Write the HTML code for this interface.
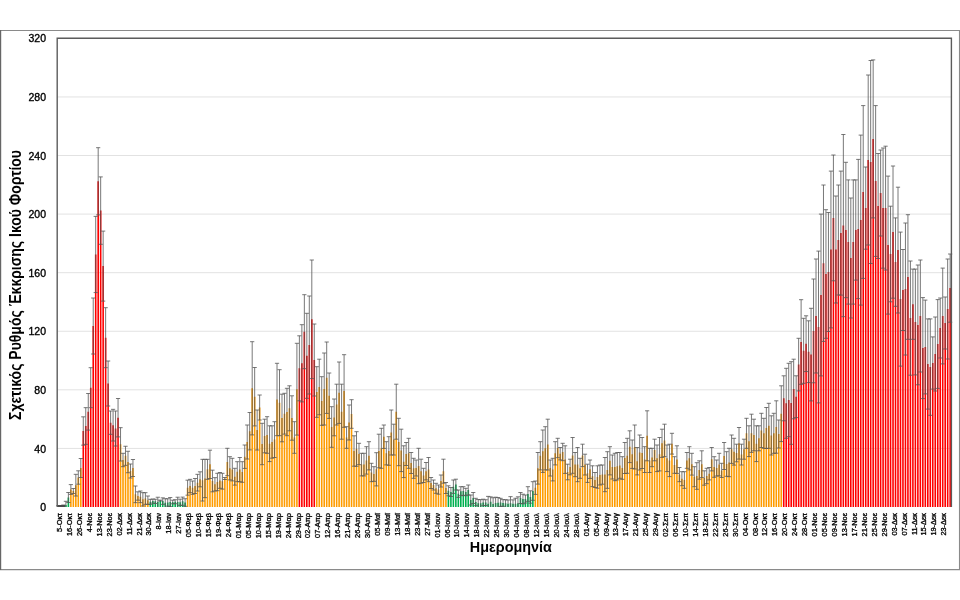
<!DOCTYPE html><html><head><meta charset="utf-8"><style>html,body{margin:0;padding:0;background:#fff;overflow:hidden;}svg{display:block;will-change:transform;font-family:"Liberation Sans",sans-serif;}</style></head><body><svg width="960" height="600" viewBox="0 0 960 600"><path d="M0 30.5H960M959.5 30V570M0 569.6H960" stroke="#8a8a8a" stroke-width="1.1" fill="none"/><path d="M0.6 30V570" stroke="#666" stroke-width="1.2"/><path d="M57.2 448.42H951.4M57.2 389.84H951.4M57.2 331.26H951.4M57.2 272.68H951.4M57.2 214.1H951.4M57.2 155.52H951.4M57.2 96.94H951.4M57.2 38.36H951.4" stroke="#e2e2e2" stroke-width="1" fill="none"/><path d="M57.64 506.3h1.6v0.7h-1.6zM60.13 506.3h1.6v0.7h-1.6zM62.61 506h1.6v1h-1.6zM65.09 505h1.6v2h-1.6zM67.58 497.5h1.6v9.5h-1.6zM149.55 501.83h1.6v5.17h-1.6zM152.03 501.06h1.6v5.94h-1.6zM154.51 501.36h1.6v5.64h-1.6zM157 501.96h1.6v5.04h-1.6zM159.48 500.53h1.6v6.47h-1.6zM161.97 501.11h1.6v5.89h-1.6zM164.45 502.82h1.6v4.18h-1.6zM166.93 502.45h1.6v4.55h-1.6zM169.42 501.99h1.6v5.01h-1.6zM171.9 501.98h1.6v5.02h-1.6zM174.38 501.72h1.6v5.28h-1.6zM176.87 502.07h1.6v4.93h-1.6zM179.35 502.27h1.6v4.73h-1.6zM181.84 501.2h1.6v5.8h-1.6zM184.32 502.52h1.6v4.48h-1.6zM447.61 490.8h1.6v16.2h-1.6zM450.1 492h1.6v15h-1.6zM452.58 486.7h1.6v20.3h-1.6zM455.06 484.6h1.6v22.4h-1.6zM457.55 493.7h1.6v13.3h-1.6zM460.03 491.2h1.6v15.8h-1.6zM462.52 491h1.6v16h-1.6zM465 492h1.6v15h-1.6zM467.48 490h1.6v17h-1.6zM469.97 500h1.6v7h-1.6zM472.45 498h1.6v9h-1.6zM474.94 502h1.6v5h-1.6zM477.42 503.3h1.6v3.7h-1.6zM479.9 503.29h1.6v3.71h-1.6zM482.39 502.49h1.6v4.51h-1.6zM484.87 502.61h1.6v4.39h-1.6zM487.35 503.7h1.6v3.3h-1.6zM489.84 501.84h1.6v5.16h-1.6zM492.32 503.91h1.6v3.09h-1.6zM494.81 503.07h1.6v3.93h-1.6zM497.29 502.77h1.6v4.23h-1.6zM499.77 502.38h1.6v4.62h-1.6zM502.26 502.96h1.6v4.04h-1.6zM504.74 503.2h1.6v3.8h-1.6zM507.23 503.64h1.6v3.36h-1.6zM509.71 503.18h1.6v3.82h-1.6zM512.19 503.65h1.6v3.35h-1.6zM514.68 503.76h1.6v3.24h-1.6zM517.16 503.28h1.6v3.72h-1.6zM519.65 498h1.6v9h-1.6zM522.13 499h1.6v8h-1.6zM524.61 499h1.6v8h-1.6zM527.1 494h1.6v13h-1.6zM529.58 497h1.6v10h-1.6zM532.06 491h1.6v16h-1.6z" fill="#00B050"/><path d="M70.06 489.5h1.6v17.5h-1.6zM72.55 491h1.6v16h-1.6zM75.03 485.17h1.6v21.83h-1.6zM77.51 477.5h1.6v29.5h-1.6zM80 468h1.6v39h-1.6zM119.74 444.33h1.6v62.67h-1.6zM122.22 460h1.6v47h-1.6zM124.71 455.8h1.6v51.2h-1.6zM127.19 462h1.6v45h-1.6zM129.67 471h1.6v36h-1.6zM132.16 468h1.6v39h-1.6zM134.64 494.33h1.6v12.67h-1.6zM137.13 496h1.6v11h-1.6zM139.61 496.83h1.6v10.17h-1.6zM142.09 499.33h1.6v7.67h-1.6zM144.58 498.5h1.6v8.5h-1.6zM147.06 500.17h1.6v6.83h-1.6zM186.8 487.67h1.6v19.33h-1.6zM189.29 486h1.6v21h-1.6zM191.77 487.67h1.6v19.33h-1.6zM194.26 486h1.6v21h-1.6zM196.74 482.67h1.6v24.33h-1.6zM199.22 479.33h1.6v27.67h-1.6zM201.71 480.17h1.6v26.83h-1.6zM204.19 478.5h1.6v28.5h-1.6zM206.68 469.33h1.6v37.67h-1.6zM209.16 464.33h1.6v42.67h-1.6zM211.64 481h1.6v26h-1.6zM214.13 484.33h1.6v22.67h-1.6zM216.61 482h1.6v25h-1.6zM219.09 480.4h1.6v26.6h-1.6zM221.58 481.2h1.6v25.8h-1.6zM224.06 478.5h1.6v28.5h-1.6zM226.55 462h1.6v45h-1.6zM229.03 468.3h1.6v38.7h-1.6zM231.51 469.6h1.6v37.4h-1.6zM234 476.7h1.6v30.3h-1.6zM236.48 471.7h1.6v35.3h-1.6zM238.97 469.6h1.6v37.4h-1.6zM241.45 472h1.6v35h-1.6zM243.93 456.7h1.6v50.3h-1.6zM246.42 442h1.6v65h-1.6zM248.9 431.2h1.6v75.8h-1.6zM251.39 388.3h1.6v118.7h-1.6zM253.87 396.7h1.6v110.3h-1.6zM256.35 430h1.6v77h-1.6zM258.84 407.5h1.6v99.5h-1.6zM261.32 444h1.6v63h-1.6zM263.8 436h1.6v71h-1.6zM266.29 435h1.6v72h-1.6zM268.77 443.7h1.6v63.3h-1.6zM271.26 442h1.6v65h-1.6zM273.74 439.6h1.6v67.4h-1.6zM276.22 399.5h1.6v107.5h-1.6zM278.71 402.7h1.6v104.3h-1.6zM281.19 418h1.6v89h-1.6zM283.68 413.7h1.6v93.3h-1.6zM286.16 412h1.6v95h-1.6zM288.64 408.3h1.6v98.7h-1.6zM291.13 418h1.6v89h-1.6zM293.61 437.5h1.6v69.5h-1.6zM296.1 389.2h1.6v117.8h-1.6zM315.97 392h1.6v115h-1.6zM318.45 387h1.6v120h-1.6zM320.93 401h1.6v106h-1.6zM323.42 389h1.6v118h-1.6zM325.9 377.7h1.6v129.3h-1.6zM328.39 395.7h1.6v111.3h-1.6zM330.87 427h1.6v80h-1.6zM333.35 417.4h1.6v89.6h-1.6zM335.84 404.6h1.6v102.4h-1.6zM338.32 392.7h1.6v114.3h-1.6zM340.81 411.7h1.6v95.3h-1.6zM343.29 391h1.6v116h-1.6zM345.77 437.5h1.6v69.5h-1.6zM348.26 422.5h1.6v84.5h-1.6zM350.74 414h1.6v93h-1.6zM353.22 451h1.6v56h-1.6zM355.71 449h1.6v58h-1.6zM358.19 454h1.6v53h-1.6zM360.68 464.6h1.6v42.4h-1.6zM363.16 464.6h1.6v42.4h-1.6zM365.64 460.4h1.6v46.6h-1.6zM368.13 455.8h1.6v51.2h-1.6zM370.61 472.5h1.6v34.5h-1.6zM373.1 474h1.6v33h-1.6zM375.58 469.3h1.6v37.7h-1.6zM378.06 451h1.6v56h-1.6zM380.55 448.3h1.6v58.7h-1.6zM383.03 436.7h1.6v70.3h-1.6zM385.52 453.3h1.6v53.7h-1.6zM388 451h1.6v56h-1.6zM390.48 432.5h1.6v74.5h-1.6zM392.97 439.6h1.6v67.4h-1.6zM395.45 411.7h1.6v95.3h-1.6zM397.93 442h1.6v65h-1.6zM400.42 450.4h1.6v56.6h-1.6zM402.9 461.7h1.6v45.3h-1.6zM405.39 454h1.6v53h-1.6zM407.87 453.3h1.6v53.7h-1.6zM410.35 463h1.6v44h-1.6zM412.84 468.3h1.6v38.7h-1.6zM415.32 468h1.6v39h-1.6zM417.81 466h1.6v41h-1.6zM420.29 471.2h1.6v35.8h-1.6zM422.77 475.4h1.6v31.6h-1.6zM425.26 471.2h1.6v35.8h-1.6zM427.74 469.6h1.6v37.4h-1.6zM430.23 483h1.6v24h-1.6zM432.71 485h1.6v22h-1.6zM435.19 488.3h1.6v18.7h-1.6zM437.68 489.6h1.6v17.4h-1.6zM440.16 481h1.6v26h-1.6zM442.64 471.2h1.6v35.8h-1.6zM445.13 488h1.6v19h-1.6zM534.55 487.7h1.6v19.3h-1.6zM537.03 468.3h1.6v38.7h-1.6zM539.52 455.8h1.6v51.2h-1.6zM542 451.2h1.6v55.8h-1.6zM544.48 448.3h1.6v58.7h-1.6zM546.97 444.6h1.6v62.4h-1.6zM549.45 468h1.6v39h-1.6zM551.94 469.6h1.6v37.4h-1.6zM554.42 453.3h1.6v53.7h-1.6zM556.9 448h1.6v59h-1.6zM559.39 453.7h1.6v53.3h-1.6zM561.87 452h1.6v55h-1.6zM564.36 459.6h1.6v47.4h-1.6zM566.84 472h1.6v35h-1.6zM569.32 467h1.6v40h-1.6zM571.81 455.4h1.6v51.6h-1.6zM574.29 464.6h1.6v42.4h-1.6zM576.77 464.6h1.6v42.4h-1.6zM579.26 468.3h1.6v38.7h-1.6zM581.74 455.4h1.6v51.6h-1.6zM584.23 464.6h1.6v42.4h-1.6zM586.71 473.3h1.6v33.7h-1.6zM589.19 469.2h1.6v37.8h-1.6zM591.68 476.2h1.6v30.8h-1.6zM594.16 480h1.6v27h-1.6zM596.65 477h1.6v30h-1.6zM599.13 475h1.6v32h-1.6zM601.61 474.6h1.6v32.4h-1.6zM604.1 474.6h1.6v32.4h-1.6zM606.58 470h1.6v37h-1.6zM609.07 460.8h1.6v46.2h-1.6zM611.55 467h1.6v40h-1.6zM614.03 467h1.6v40h-1.6zM616.52 466.2h1.6v40.8h-1.6zM619 465.4h1.6v41.6h-1.6zM621.48 468h1.6v39h-1.6zM623.97 458h1.6v49h-1.6zM626.45 455.8h1.6v51.2h-1.6zM628.94 446.7h1.6v60.3h-1.6zM631.42 454.2h1.6v52.8h-1.6zM633.9 447h1.6v60h-1.6zM636.39 461.2h1.6v45.8h-1.6zM638.87 452.5h1.6v54.5h-1.6zM641.36 453h1.6v54h-1.6zM643.84 459.6h1.6v47.4h-1.6zM646.32 435.8h1.6v71.2h-1.6zM648.81 460.4h1.6v46.6h-1.6zM651.29 457.5h1.6v49.5h-1.6zM653.78 450h1.6v57h-1.6zM656.26 458.3h1.6v48.7h-1.6zM658.74 454.2h1.6v52.8h-1.6zM661.23 443.3h1.6v63.7h-1.6zM663.71 440.4h1.6v66.6h-1.6zM666.19 458.3h1.6v48.7h-1.6zM668.68 460.4h1.6v46.6h-1.6zM671.16 443.7h1.6v63.3h-1.6zM673.65 465h1.6v42h-1.6zM676.13 459.6h1.6v47.4h-1.6zM678.61 474.6h1.6v32.4h-1.6zM681.1 478.7h1.6v28.3h-1.6zM683.58 480h1.6v27h-1.6zM686.07 460.4h1.6v46.6h-1.6zM688.55 458.3h1.6v48.7h-1.6zM691.03 464.2h1.6v42.8h-1.6zM693.52 476.7h1.6v30.3h-1.6zM696 476h1.6v31h-1.6zM698.49 470h1.6v37h-1.6zM700.97 464.2h1.6v42.8h-1.6zM703.45 478h1.6v29h-1.6zM705.94 476h1.6v31h-1.6zM708.42 473.7h1.6v33.3h-1.6zM710.9 459.2h1.6v47.8h-1.6zM713.39 467h1.6v40h-1.6zM715.87 468h1.6v39h-1.6zM718.36 464.6h1.6v42.4h-1.6zM720.84 470.4h1.6v36.6h-1.6zM723.32 456h1.6v51h-1.6zM725.81 464h1.6v43h-1.6zM728.29 462.5h1.6v44.5h-1.6zM730.78 449.2h1.6v57.8h-1.6zM733.26 451.7h1.6v55.3h-1.6zM735.74 453h1.6v54h-1.6zM738.23 443.3h1.6v63.7h-1.6zM740.71 454.6h1.6v52.4h-1.6zM743.2 449.2h1.6v57.8h-1.6zM745.68 433.3h1.6v73.7h-1.6zM748.16 441.2h1.6v65.8h-1.6zM750.65 433.3h1.6v73.7h-1.6zM753.13 435h1.6v72h-1.6zM755.61 443.7h1.6v63.3h-1.6zM758.1 438.3h1.6v68.7h-1.6zM760.58 430.4h1.6v76.6h-1.6zM763.07 433.3h1.6v73.7h-1.6zM765.55 428h1.6v79h-1.6zM768.03 425.8h1.6v81.2h-1.6zM770.52 435.4h1.6v71.6h-1.6zM773 433.3h1.6v73.7h-1.6zM775.49 427h1.6v80h-1.6zM777.97 434h1.6v73h-1.6zM780.45 413.7h1.6v93.3h-1.6z" fill="#FF9C00"/><path d="M82.48 431h1.6v76h-1.6zM84.96 426h1.6v81h-1.6zM87.45 411.8h1.6v95.2h-1.6zM89.93 387.7h1.6v119.3h-1.6zM92.42 326h1.6v181h-1.6zM94.9 254.5h1.6v252.5h-1.6zM97.38 181.3h1.6v325.7h-1.6zM99.87 210.6h1.6v296.4h-1.6zM102.35 266.1h1.6v240.9h-1.6zM104.84 337.7h1.6v169.3h-1.6zM107.32 383.5h1.6v123.5h-1.6zM109.8 422.67h1.6v84.33h-1.6zM112.29 425.17h1.6v81.83h-1.6zM114.77 428.5h1.6v78.5h-1.6zM117.26 417.7h1.6v89.3h-1.6zM298.58 368.3h1.6v138.7h-1.6zM301.06 363.3h1.6v143.7h-1.6zM303.55 331.7h1.6v175.3h-1.6zM306.03 355.8h1.6v151.2h-1.6zM308.51 345h1.6v162h-1.6zM311 319.3h1.6v187.7h-1.6zM313.48 360h1.6v147h-1.6zM782.94 398.3h1.6v108.7h-1.6zM785.42 403.3h1.6v103.7h-1.6zM787.91 400h1.6v107h-1.6zM790.39 403h1.6v104h-1.6zM792.87 389h1.6v118h-1.6zM795.36 396.7h1.6v110.3h-1.6zM797.84 364.6h1.6v142.4h-1.6zM800.32 342h1.6v165h-1.6zM802.81 350.8h1.6v156.2h-1.6zM805.29 343.7h1.6v163.3h-1.6zM807.78 351.7h1.6v155.3h-1.6zM810.26 354.6h1.6v152.4h-1.6zM812.74 330.9h1.6v176.1h-1.6zM815.23 316h1.6v191h-1.6zM817.71 327h1.6v180h-1.6zM820.2 295h1.6v212h-1.6zM822.68 263.2h1.6v243.8h-1.6zM825.16 274h1.6v233h-1.6zM827.65 272h1.6v235h-1.6zM830.13 249.5h1.6v257.5h-1.6zM832.62 217.9h1.6v289.1h-1.6zM835.1 249.5h1.6v257.5h-1.6zM837.58 240h1.6v267h-1.6zM840.07 233.1h1.6v273.9h-1.6zM842.55 225.6h1.6v281.4h-1.6zM845.03 230h1.6v277h-1.6zM847.52 242h1.6v265h-1.6zM850 258h1.6v249h-1.6zM852.49 242h1.6v265h-1.6zM854.97 230h1.6v277h-1.6zM857.45 229h1.6v278h-1.6zM859.94 220.1h1.6v286.9h-1.6zM862.42 192h1.6v315h-1.6zM864.91 208.1h1.6v298.9h-1.6zM867.39 160h1.6v347h-1.6zM869.87 162h1.6v345h-1.6zM872.36 138.9h1.6v368.1h-1.6zM874.84 181h1.6v326h-1.6zM877.33 206h1.6v301h-1.6zM879.81 193h1.6v314h-1.6zM882.29 208.1h1.6v298.9h-1.6zM884.78 208.1h1.6v298.9h-1.6zM887.26 245.1h1.6v261.9h-1.6zM889.74 254h1.6v253h-1.6zM892.23 232.1h1.6v274.9h-1.6zM894.71 262.1h1.6v244.9h-1.6zM897.2 250.1h1.6v256.9h-1.6zM899.68 299.1h1.6v207.9h-1.6zM902.16 290h1.6v217h-1.6zM904.65 289h1.6v218h-1.6zM907.13 277h1.6v230h-1.6zM909.62 318.1h1.6v188.9h-1.6zM912.1 304.2h1.6v202.8h-1.6zM914.58 322h1.6v185h-1.6zM917.07 324.9h1.6v182.1h-1.6zM919.55 316h1.6v191h-1.6zM922.04 348.1h1.6v158.9h-1.6zM924.52 347h1.6v160h-1.6zM927 364h1.6v143h-1.6zM929.49 367.1h1.6v139.9h-1.6zM931.97 363h1.6v144h-1.6zM934.45 354h1.6v153h-1.6zM936.94 344h1.6v163h-1.6zM939.42 328h1.6v179h-1.6zM941.91 316h1.6v191h-1.6zM944.39 323h1.6v184h-1.6zM946.87 309h1.6v198h-1.6zM949.36 288.1h1.6v218.9h-1.6z" fill="#FF0000"/><path d="M58.44 505.5V507M56.34 505.5h4.2M60.93 505.5V507M58.83 505.5h4.2M63.41 505V507M61.31 505h4.2M65.89 501.3V507M63.79 501.3h4.2M68.38 492.5V502.5M66.28 492.5h4.2M66.28 502.5h4.2M70.86 484.6V494.4M68.76 484.6h4.2M68.76 494.4h4.2M73.35 488.5V493.5M71.25 488.5h4.2M71.25 493.5h4.2M75.83 474.33V496M73.73 474.33h4.2M73.73 496h4.2M78.31 470.8V484.2M76.21 470.8h4.2M76.21 484.2h4.2M80.8 458.5V477.5M78.7 458.5h4.2M78.7 477.5h4.2M83.28 416.83V445.17M81.18 416.83h4.2M81.18 445.17h4.2M85.76 407.67V444.33M83.66 407.67h4.2M83.66 444.33h4.2M88.25 393.5V430.1M86.15 393.5h4.2M86.15 430.1h4.2M90.73 367.7V407.7M88.63 367.7h4.2M88.63 407.7h4.2M93.22 298V354M91.12 298h4.2M91.12 354h4.2M95.7 216.4V292.6M93.6 216.4h4.2M93.6 292.6h4.2M98.18 147.7V214.9M96.08 147.7h4.2M96.08 214.9h4.2M100.67 176.9V244.3M98.57 176.9h4.2M98.57 244.3h4.2M103.15 231.1V301.1M101.05 231.1h4.2M101.05 301.1h4.2M105.64 307.7V367.7M103.54 307.7h4.2M103.54 367.7h4.2M108.12 361V406M106.02 361h4.2M106.02 406h4.2M110.6 411V434.33M108.5 411h4.2M108.5 434.33h4.2M113.09 409.33V441M110.99 409.33h4.2M110.99 441h4.2M115.57 411V446M113.47 411h4.2M113.47 446h4.2M118.06 398.5V436.9M115.96 398.5h4.2M115.96 436.9h4.2M120.54 427.67V461M118.44 427.67h4.2M118.44 461h4.2M123.02 453.3V466.7M120.92 453.3h4.2M120.92 466.7h4.2M125.51 446.25V465.35M123.41 446.25h4.2M123.41 465.35h4.2M127.99 451.25V472.75M125.89 451.25h4.2M125.89 472.75h4.2M130.47 464V478M128.37 464h4.2M128.37 478h4.2M132.96 459.5V476.5M130.86 459.5h4.2M130.86 476.5h4.2M135.44 486V502.67M133.34 486h4.2M133.34 502.67h4.2M137.93 491.83V500.17M135.83 491.83h4.2M135.83 500.17h4.2M140.41 491V502.67M138.31 491h4.2M138.31 502.67h4.2M142.89 492.67V506M140.79 492.67h4.2M140.79 506h4.2M145.38 492.67V504.33M143.28 492.67h4.2M143.28 504.33h4.2M147.86 496V504.33M145.76 496h4.2M145.76 504.33h4.2M150.35 499.33V504.33M148.25 499.33h4.2M148.25 504.33h4.2M152.83 499V503.11M150.73 499h4.2M150.73 503.11h4.2M155.31 499.21V503.51M153.21 499.21h4.2M153.21 503.51h4.2M157.8 497.24V506.68M155.7 497.24h4.2M160.28 500.07V500.99M158.18 500.07h4.2M158.18 500.99h4.2M162.77 497.86V504.35M160.67 497.86h4.2M160.67 504.35h4.2M165.25 498.72V506.92M163.15 498.72h4.2M167.73 498.75V506.16M165.63 498.75h4.2M165.63 506.16h4.2M170.22 497.55V506.43M168.12 497.55h4.2M168.12 506.43h4.2M172.7 500.18V503.78M170.6 500.18h4.2M170.6 503.78h4.2M175.18 499.72V503.72M173.08 499.72h4.2M173.08 503.72h4.2M177.67 497.23V506.9M175.57 497.23h4.2M180.15 499.17V505.37M178.05 499.17h4.2M178.05 505.37h4.2M182.64 497.11V505.29M180.54 497.11h4.2M180.54 505.29h4.2M185.12 498.73V506.31M183.02 498.73h4.2M183.02 506.31h4.2M187.6 480.17V495.17M185.5 480.17h4.2M185.5 495.17h4.2M190.09 479.33V492.67M187.99 479.33h4.2M187.99 492.67h4.2M192.57 481V494.33M190.47 481h4.2M190.47 494.33h4.2M195.06 478.5V493.5M192.96 478.5h4.2M192.96 493.5h4.2M197.54 474.33V491M195.44 474.33h4.2M195.44 491h4.2M200.02 471.83V486.83M197.92 471.83h4.2M197.92 486.83h4.2M202.51 459.33V501M200.41 459.33h4.2M200.41 501h4.2M204.99 459.33V497.67M202.89 459.33h4.2M202.89 497.67h4.2M207.48 459.33V479.33M205.38 459.33h4.2M205.38 479.33h4.2M209.96 450.17V478.5M207.86 450.17h4.2M207.86 478.5h4.2M212.44 470.17V491.83M210.34 470.17h4.2M210.34 491.83h4.2M214.93 477.67V491M212.83 477.67h4.2M212.83 491h4.2M217.41 473.3V490.7M215.31 473.3h4.2M215.31 490.7h4.2M219.89 472.5V488.3M217.79 472.5h4.2M217.79 488.3h4.2M222.38 473.3V489.1M220.28 473.3h4.2M220.28 489.1h4.2M224.86 477.5V479.5M222.76 477.5h4.2M222.76 479.5h4.2M227.35 448.3V475.7M225.25 448.3h4.2M225.25 475.7h4.2M229.83 456.7V479.9M227.73 456.7h4.2M227.73 479.9h4.2M232.31 458.3V480.9M230.21 458.3h4.2M230.21 480.9h4.2M234.8 468.3V485.1M232.7 468.3h4.2M232.7 485.1h4.2M237.28 461.7V481.7M235.18 461.7h4.2M235.18 481.7h4.2M239.77 457.5V481.7M237.67 457.5h4.2M237.67 481.7h4.2M242.25 461.7V482.3M240.15 461.7h4.2M240.15 482.3h4.2M244.73 445V468.4M242.63 445h4.2M242.63 468.4h4.2M247.22 425V459M245.12 425h4.2M245.12 459h4.2M249.7 412.5V449.9M247.6 412.5h4.2M247.6 449.9h4.2M252.19 341.7V434.9M250.09 341.7h4.2M250.09 434.9h4.2M254.67 367.5V425.9M252.57 367.5h4.2M252.57 425.9h4.2M257.15 410V450M255.05 410h4.2M255.05 450h4.2M259.64 395V420M257.54 395h4.2M257.54 420h4.2M262.12 423.3V464.7M260.02 423.3h4.2M260.02 464.7h4.2M264.6 419.2V452.8M262.5 419.2h4.2M262.5 452.8h4.2M267.09 416.7V453.3M264.99 416.7h4.2M264.99 453.3h4.2M269.57 425.8V461.6M267.47 425.8h4.2M267.47 461.6h4.2M272.06 425.8V458.2M269.96 425.8h4.2M269.96 458.2h4.2M274.54 421.7V457.5M272.44 421.7h4.2M272.44 457.5h4.2M277.02 363.3V435.7M274.92 363.3h4.2M274.92 435.7h4.2M279.51 369.7V435.7M277.41 369.7h4.2M277.41 435.7h4.2M281.99 394.2V441.8M279.89 394.2h4.2M279.89 441.8h4.2M284.48 393.3V434.1M282.38 393.3h4.2M282.38 434.1h4.2M286.96 388.3V435.7M284.86 388.3h4.2M284.86 435.7h4.2M289.44 385.8V430.8M287.34 385.8h4.2M287.34 430.8h4.2M291.93 395.8V440.2M289.83 395.8h4.2M289.83 440.2h4.2M294.41 421.7V453.3M292.31 421.7h4.2M292.31 453.3h4.2M296.9 343.3V435.1M294.8 343.3h4.2M294.8 435.1h4.2M299.38 335.8V400.8M297.28 335.8h4.2M297.28 400.8h4.2M301.86 324.7V401.9M299.76 324.7h4.2M299.76 401.9h4.2M304.35 294.7V368.7M302.25 294.7h4.2M302.25 368.7h4.2M306.83 313.3V398.3M304.73 313.3h4.2M304.73 398.3h4.2M309.31 296V394M307.21 296h4.2M307.21 394h4.2M311.8 260V378.6M309.7 260h4.2M309.7 378.6h4.2M314.28 324V396M312.18 324h4.2M312.18 396h4.2M316.77 366.7V417.3M314.67 366.7h4.2M314.67 417.3h4.2M319.25 359.2V414.8M317.15 359.2h4.2M317.15 414.8h4.2M321.73 376.7V425.3M319.63 376.7h4.2M319.63 425.3h4.2M324.22 353V425M322.12 353h4.2M322.12 425h4.2M326.7 342V413.4M324.6 342h4.2M324.6 413.4h4.2M329.19 373V418.4M327.09 373h4.2M327.09 418.4h4.2M331.67 406.7V447.3M329.57 406.7h4.2M329.57 447.3h4.2M334.15 399V435.8M332.05 399h4.2M332.05 435.8h4.2M336.64 384.2V425M334.54 384.2h4.2M334.54 425h4.2M339.12 362V423.4M337.02 362h4.2M337.02 423.4h4.2M341.61 384.2V439.2M339.51 384.2h4.2M339.51 439.2h4.2M344.09 354.7V427.3M341.99 354.7h4.2M341.99 427.3h4.2M346.57 426.7V448.3M344.47 426.7h4.2M344.47 448.3h4.2M349.06 405V440M346.96 405h4.2M346.96 440h4.2M351.54 399.7V428.3M349.44 399.7h4.2M349.44 428.3h4.2M354.02 435.8V466.2M351.92 435.8h4.2M351.92 466.2h4.2M356.51 431.7V466.3M354.41 431.7h4.2M354.41 466.3h4.2M358.99 443.3V464.7M356.89 443.3h4.2M356.89 464.7h4.2M361.48 453.3V475.9M359.38 453.3h4.2M359.38 475.9h4.2M363.96 453.3V475.9M361.86 453.3h4.2M361.86 475.9h4.2M366.44 446.7V474.1M364.34 446.7h4.2M364.34 474.1h4.2M368.93 441.7V469.9M366.83 441.7h4.2M366.83 469.9h4.2M371.41 463.3V481.7M369.31 463.3h4.2M369.31 481.7h4.2M373.9 466.7V481.3M371.8 466.7h4.2M371.8 481.3h4.2M376.38 452.7V485.9M374.28 452.7h4.2M374.28 485.9h4.2M378.86 434.2V467.8M376.76 434.2h4.2M376.76 467.8h4.2M381.35 428.3V468.3M379.25 428.3h4.2M379.25 468.3h4.2M383.83 425V448.4M381.73 425h4.2M381.73 448.4h4.2M386.32 441.7V464.9M384.22 441.7h4.2M384.22 464.9h4.2M388.8 436.7V465.3M386.7 436.7h4.2M386.7 465.3h4.2M391.28 410V455M389.18 410h4.2M389.18 455h4.2M393.77 424.2V455M391.67 424.2h4.2M391.67 455h4.2M396.25 384.2V439.2M394.15 384.2h4.2M394.15 439.2h4.2M398.73 418.3V465.7M396.63 418.3h4.2M396.63 465.7h4.2M401.22 429.2V471.6M399.12 429.2h4.2M399.12 471.6h4.2M403.7 445.8V477.6M401.6 445.8h4.2M401.6 477.6h4.2M406.19 442.5V465.5M404.09 442.5h4.2M404.09 465.5h4.2M408.67 438.3V468.3M406.57 438.3h4.2M406.57 468.3h4.2M411.15 452.5V473.5M409.05 452.5h4.2M409.05 473.5h4.2M413.64 458.3V478.3M411.54 458.3h4.2M411.54 478.3h4.2M416.12 460V476M414.02 460h4.2M414.02 476h4.2M418.61 448.3V483.7M416.51 448.3h4.2M416.51 483.7h4.2M421.09 459.2V483.2M418.99 459.2h4.2M418.99 483.2h4.2M423.57 468.3V482.5M421.47 468.3h4.2M421.47 482.5h4.2M426.06 462.5V479.9M423.96 462.5h4.2M423.96 479.9h4.2M428.54 457.5V481.7M426.44 457.5h4.2M426.44 481.7h4.2M431.03 477.5V488.5M428.93 477.5h4.2M428.93 488.5h4.2M433.51 480V490M431.41 480h4.2M431.41 490h4.2M435.99 483.3V493.3M433.89 483.3h4.2M433.89 493.3h4.2M438.48 485V494.2M436.38 485h4.2M436.38 494.2h4.2M440.96 475V487M438.86 475h4.2M438.86 487h4.2M443.44 459.2V483.2M441.34 459.2h4.2M441.34 483.2h4.2M445.93 482.5V493.5M443.83 482.5h4.2M443.83 493.5h4.2M448.41 485.8V495.8M446.31 485.8h4.2M446.31 495.8h4.2M450.9 487.5V496.5M448.8 487.5h4.2M448.8 496.5h4.2M453.38 480V493.4M451.28 480h4.2M451.28 493.4h4.2M455.86 479.2V490M453.76 479.2h4.2M453.76 490h4.2M458.35 490V497.4M456.25 490h4.2M456.25 497.4h4.2M460.83 486.7V495.7M458.73 486.7h4.2M458.73 495.7h4.2M463.32 486.7V495.3M461.22 486.7h4.2M461.22 495.3h4.2M465.8 488.3V495.7M463.7 488.3h4.2M463.7 495.7h4.2M468.28 485V495M466.18 485h4.2M466.18 495h4.2M470.77 495V505M468.67 495h4.2M468.67 505h4.2M473.25 492.5V503.5M471.15 492.5h4.2M471.15 503.5h4.2M475.74 498.3V505.7M473.64 498.3h4.2M473.64 505.7h4.2M478.22 499.52V507M476.12 499.52h4.2M480.7 499.68V506.89M478.6 499.68h4.2M483.19 499.2V505.77M481.09 499.2h4.2M481.09 505.77h4.2M485.67 499.74V505.48M483.57 499.74h4.2M483.57 505.48h4.2M488.15 496.39V507M486.05 496.39h4.2M490.64 496.87V506.81M488.54 496.87h4.2M493.12 497.74V507M491.02 497.74h4.2M495.61 497.2V507M493.51 497.2h4.2M498.09 497.54V507M495.99 497.54h4.2M500.57 498.34V506.41M498.47 498.34h4.2M498.47 506.41h4.2M503.06 499.62V506.3M500.96 499.62h4.2M500.96 506.3h4.2M505.54 499.72V506.69M503.44 499.72h4.2M508.03 499.96V507M505.93 499.96h4.2M510.51 496.65V507M508.41 496.65h4.2M512.99 499.86V507M510.89 499.86h4.2M515.48 498.28V507M513.38 498.28h4.2M517.96 496.84V507M515.86 496.84h4.2M520.45 492.5V503.5M518.35 492.5h4.2M518.35 503.5h4.2M522.93 494.2V503.8M520.83 494.2h4.2M520.83 503.8h4.2M525.41 495V503M523.31 495h4.2M523.31 503h4.2M527.9 486.7V501.3M525.8 486.7h4.2M525.8 501.3h4.2M530.38 490.8V503.2M528.28 490.8h4.2M528.28 503.2h4.2M532.86 481.7V500.3M530.76 481.7h4.2M530.76 500.3h4.2M535.35 481V494.4M533.25 481h4.2M533.25 494.4h4.2M537.83 452.5V484.1M535.73 452.5h4.2M535.73 484.1h4.2M540.32 441.7V469.9M538.22 441.7h4.2M538.22 469.9h4.2M542.8 430V472.4M540.7 430h4.2M540.7 472.4h4.2M545.28 426.7V469.9M543.18 426.7h4.2M543.18 469.9h4.2M547.77 419.2V470M545.67 419.2h4.2M545.67 470h4.2M550.25 460V476M548.15 460h4.2M548.15 476h4.2M552.74 458.3V480.9M550.64 458.3h4.2M550.64 480.9h4.2M555.22 441.7V464.9M553.12 441.7h4.2M553.12 464.9h4.2M557.7 438.3V457.7M555.6 438.3h4.2M555.6 457.7h4.2M560.19 447.5V459.9M558.09 447.5h4.2M558.09 459.9h4.2M562.67 443.3V460.7M560.57 443.3h4.2M560.57 460.7h4.2M565.16 445.8V473.4M563.06 445.8h4.2M563.06 473.4h4.2M567.64 464.2V479.8M565.54 464.2h4.2M565.54 479.8h4.2M570.12 459.2V474.8M568.02 459.2h4.2M568.02 474.8h4.2M572.61 437.5V473.3M570.51 437.5h4.2M570.51 473.3h4.2M575.09 452.5V476.7M572.99 452.5h4.2M572.99 476.7h4.2M577.57 447.5V481.7M575.47 447.5h4.2M575.47 481.7h4.2M580.06 458.3V478.3M577.96 458.3h4.2M577.96 478.3h4.2M582.54 444.2V466.6M580.44 444.2h4.2M580.44 466.6h4.2M585.03 454.2V475M582.93 454.2h4.2M582.93 475h4.2M587.51 464.2V482.4M585.41 464.2h4.2M585.41 482.4h4.2M589.99 460V478.4M587.89 460h4.2M587.89 478.4h4.2M592.48 465.8V486.6M590.38 465.8h4.2M590.38 486.6h4.2M594.96 472.5V487.5M592.86 472.5h4.2M592.86 487.5h4.2M597.45 465.8V488.2M595.35 465.8h4.2M595.35 488.2h4.2M599.93 465V485M597.83 465h4.2M597.83 485h4.2M602.41 465V484.2M600.31 465h4.2M600.31 484.2h4.2M604.9 457.5V491.7M602.8 457.5h4.2M602.8 491.7h4.2M607.38 451.7V488.3M605.28 451.7h4.2M605.28 488.3h4.2M609.87 446.7V474.9M607.77 446.7h4.2M607.77 474.9h4.2M612.35 455V479M610.25 455h4.2M610.25 479h4.2M614.83 453.3V480.7M612.73 453.3h4.2M612.73 480.7h4.2M617.32 452.5V479.9M615.22 452.5h4.2M615.22 479.9h4.2M619.8 452.5V478.3M617.7 452.5h4.2M617.7 478.3h4.2M622.28 456.7V479.3M620.18 456.7h4.2M620.18 479.3h4.2M624.77 442.5V473.5M622.67 442.5h4.2M622.67 473.5h4.2M627.25 438.3V473.3M625.15 438.3h4.2M625.15 473.3h4.2M629.74 430.8V462.6M627.64 430.8h4.2M627.64 462.6h4.2M632.22 440V468.4M630.12 440h4.2M630.12 468.4h4.2M634.7 425V469M632.6 425h4.2M632.6 469h4.2M637.19 447.5V474.9M635.09 447.5h4.2M635.09 474.9h4.2M639.67 435V470M637.57 435h4.2M637.57 470h4.2M642.16 437.5V468.5M640.06 437.5h4.2M640.06 468.5h4.2M644.64 446.7V472.5M642.54 446.7h4.2M642.54 472.5h4.2M647.12 410.8V460.8M645.02 410.8h4.2M645.02 460.8h4.2M649.61 448.3V472.5M647.51 448.3h4.2M647.51 472.5h4.2M652.09 448.3V466.7M649.99 448.3h4.2M649.99 466.7h4.2M654.58 439.2V460.8M652.48 439.2h4.2M652.48 460.8h4.2M657.06 445V471.6M654.96 445h4.2M654.96 471.6h4.2M659.54 437.5V470.9M657.44 437.5h4.2M657.44 470.9h4.2M662.03 429.2V457.4M659.93 429.2h4.2M659.93 457.4h4.2M664.51 424.2V456.6M662.41 424.2h4.2M662.41 456.6h4.2M666.99 445V471.6M664.89 445h4.2M664.89 471.6h4.2M669.48 444.2V476.6M667.38 444.2h4.2M667.38 476.6h4.2M671.96 433.3V454.1M669.86 433.3h4.2M669.86 454.1h4.2M674.45 456.7V473.3M672.35 456.7h4.2M672.35 473.3h4.2M676.93 445.8V473.4M674.83 445.8h4.2M674.83 473.4h4.2M679.41 467.5V481.7M677.31 467.5h4.2M677.31 481.7h4.2M681.9 471.7V485.7M679.8 471.7h4.2M679.8 485.7h4.2M684.38 471.7V488.3M682.28 471.7h4.2M682.28 488.3h4.2M686.87 452.5V468.3M684.77 452.5h4.2M684.77 468.3h4.2M689.35 446.7V469.9M687.25 446.7h4.2M687.25 469.9h4.2M691.83 453.3V475.1M689.73 453.3h4.2M689.73 475.1h4.2M694.32 466.7V486.7M692.22 466.7h4.2M692.22 486.7h4.2M696.8 462.7V489.3M694.7 462.7h4.2M694.7 489.3h4.2M699.29 460.8V479.2M697.19 460.8h4.2M697.19 479.2h4.2M701.77 450.8V477.6M699.67 450.8h4.2M699.67 477.6h4.2M704.25 470.8V485.2M702.15 470.8h4.2M702.15 485.2h4.2M706.74 468.3V483.7M704.64 468.3h4.2M704.64 483.7h4.2M709.22 467.5V479.9M707.12 467.5h4.2M707.12 479.9h4.2M711.7 447.5V470.9M709.6 447.5h4.2M709.6 470.9h4.2M714.19 456.7V477.3M712.09 456.7h4.2M712.09 477.3h4.2M716.67 460V476M714.57 460h4.2M714.57 476h4.2M719.16 453.3V475.9M717.06 453.3h4.2M717.06 475.9h4.2M721.64 463.3V477.5M719.54 463.3h4.2M719.54 477.5h4.2M724.12 442.5V469.5M722.02 442.5h4.2M722.02 469.5h4.2M726.61 451.7V476.3M724.51 451.7h4.2M724.51 476.3h4.2M729.09 448.3V476.7M726.99 448.3h4.2M726.99 476.7h4.2M731.58 435V463.4M729.48 435h4.2M729.48 463.4h4.2M734.06 438.3V465.1M731.96 438.3h4.2M731.96 465.1h4.2M736.54 444.2V461.8M734.44 444.2h4.2M734.44 461.8h4.2M739.03 427.5V459.1M736.93 427.5h4.2M736.93 459.1h4.2M741.51 444.2V465M739.41 444.2h4.2M739.41 465h4.2M744 439.2V459.2M741.9 439.2h4.2M741.9 459.2h4.2M746.48 418.3V448.3M744.38 418.3h4.2M744.38 448.3h4.2M748.96 425.8V456.6M746.86 425.8h4.2M746.86 456.6h4.2M751.45 414.2V452.4M749.35 414.2h4.2M749.35 452.4h4.2M753.93 419.2V450.8M751.83 419.2h4.2M751.83 450.8h4.2M756.41 425.8V461.6M754.31 425.8h4.2M754.31 461.6h4.2M758.9 425.8V450.8M756.8 425.8h4.2M756.8 450.8h4.2M761.38 413.3V447.5M759.28 413.3h4.2M759.28 447.5h4.2M763.87 418.3V448.3M761.77 418.3h4.2M761.77 448.3h4.2M766.35 407.5V448.5M764.25 407.5h4.2M764.25 448.5h4.2M768.83 403.3V448.3M766.73 403.3h4.2M766.73 448.3h4.2M771.32 415.8V455M769.22 415.8h4.2M769.22 455h4.2M773.8 413.3V453.3M771.7 413.3h4.2M771.7 453.3h4.2M776.29 400.8V453.2M774.19 400.8h4.2M774.19 453.2h4.2M778.77 420V448M776.67 420h4.2M776.67 448h4.2M781.25 385.8V441.6M779.15 385.8h4.2M779.15 441.6h4.2M783.74 375.8V420.8M781.64 375.8h4.2M781.64 420.8h4.2M786.22 368.3V438.3M784.12 368.3h4.2M784.12 438.3h4.2M788.71 363.3V436.7M786.61 363.3h4.2M786.61 436.7h4.2M791.19 361.7V444.3M789.09 361.7h4.2M789.09 444.3h4.2M793.67 359.2V418.8M791.57 359.2h4.2M791.57 418.8h4.2M796.16 375.8V417.6M794.06 375.8h4.2M794.06 417.6h4.2M798.64 338.3V390.9M796.54 338.3h4.2M796.54 390.9h4.2M801.12 299.7V384.3M799.02 299.7h4.2M799.02 384.3h4.2M803.61 318.3V383.3M801.51 318.3h4.2M801.51 383.3h4.2M806.09 315.8V371.6M803.99 315.8h4.2M803.99 371.6h4.2M808.58 320.8V382.6M806.48 320.8h4.2M806.48 382.6h4.2M811.06 308.3V400.9M808.96 308.3h4.2M808.96 400.9h4.2M813.54 279V382.8M811.44 279h4.2M811.44 382.8h4.2M816.03 259V373M813.93 259h4.2M813.93 373h4.2M818.51 251.1V402.9M816.41 251.1h4.2M816.41 402.9h4.2M821 214.1V375.9M818.9 214.1h4.2M818.9 375.9h4.2M823.48 185V341.4M821.38 185h4.2M821.38 341.4h4.2M825.96 209.7V338.3M823.86 209.7h4.2M823.86 338.3h4.2M828.45 212.5V331.5M826.35 212.5h4.2M826.35 331.5h4.2M830.93 171.1V327.9M828.83 171.1h4.2M828.83 327.9h4.2M833.42 155V280.8M831.32 155h4.2M831.32 280.8h4.2M835.9 196V303M833.8 196h4.2M833.8 303h4.2M838.38 185V295M836.28 185h4.2M836.28 295h4.2M840.87 171.1V295.1M838.77 171.1h4.2M838.77 295.1h4.2M843.35 134.5V316.7M841.25 134.5h4.2M841.25 316.7h4.2M845.83 162.3V297.7M843.73 162.3h4.2M843.73 297.7h4.2M848.32 179.9V304.1M846.22 179.9h4.2M846.22 304.1h4.2M850.8 198V318M848.7 198h4.2M848.7 318h4.2M853.29 179.9V304.1M851.19 179.9h4.2M851.19 304.1h4.2M855.77 179.9V280.1M853.67 179.9h4.2M853.67 280.1h4.2M858.25 159.4V298.6M856.15 159.4h4.2M856.15 298.6h4.2M860.74 135.1V305.1M858.64 135.1h4.2M858.64 305.1h4.2M863.22 105.6V278.4M861.12 105.6h4.2M861.12 278.4h4.2M865.71 167V249.2M863.61 167h4.2M863.61 249.2h4.2M868.19 75V245M866.09 75h4.2M866.09 245h4.2M870.67 60.5V263.5M868.57 60.5h4.2M868.57 263.5h4.2M873.16 59.9V217.9M871.06 59.9h4.2M871.06 217.9h4.2M875.64 105.6V256.4M873.54 105.6h4.2M873.54 256.4h4.2M878.13 153.5V258.5M876.03 153.5h4.2M876.03 258.5h4.2M880.61 150V236M878.51 150h4.2M878.51 236h4.2M883.09 148V268.2M880.99 148h4.2M880.99 268.2h4.2M885.58 146.2V270M883.48 146.2h4.2M883.48 270h4.2M888.06 176.1V314.1M885.96 176.1h4.2M885.96 314.1h4.2M890.54 206.2V301.8M888.44 206.2h4.2M888.44 301.8h4.2M893.03 166V298.2M890.93 166h4.2M890.93 298.2h4.2M895.51 217.9V306.3M893.41 217.9h4.2M893.41 306.3h4.2M898 187.2V313M895.9 187.2h4.2M895.9 313h4.2M900.48 232.1V366.1M898.38 232.1h4.2M898.38 366.1h4.2M902.96 249.5V330.5M900.86 249.5h4.2M900.86 330.5h4.2M905.45 223V355M903.35 223h4.2M903.35 355h4.2M907.93 214.7V339.3M905.83 214.7h4.2M905.83 339.3h4.2M910.42 261V375.2M908.32 261h4.2M908.32 375.2h4.2M912.9 269.1V339.3M910.8 269.1h4.2M910.8 339.3h4.2M915.38 269.1V374.9M913.28 269.1h4.2M913.28 374.9h4.2M917.87 265V384.8M915.77 265h4.2M915.77 384.8h4.2M920.35 260V372M918.25 260h4.2M918.25 372h4.2M922.84 297.6V398.6M920.74 297.6h4.2M920.74 398.6h4.2M925.32 300.1V393.9M923.22 300.1h4.2M923.22 393.9h4.2M927.8 318.9V409.1M925.7 318.9h4.2M925.7 409.1h4.2M930.29 318.9V415.3M928.19 318.9h4.2M928.19 415.3h4.2M932.77 336.9V389.1M930.67 336.9h4.2M930.67 389.1h4.2M935.25 317V391M933.15 317h4.2M933.15 391h4.2M937.74 299.6V388.4M935.64 299.6h4.2M935.64 388.4h4.2M940.22 298V358M938.12 298h4.2M938.12 358h4.2M942.71 268.1V363.9M940.61 268.1h4.2M940.61 363.9h4.2M945.19 297V349M943.09 297h4.2M943.09 349h4.2M947.67 259V359M945.57 259h4.2M945.57 359h4.2M950.16 254V322.2M948.06 254h4.2M948.06 322.2h4.2" stroke="#555555" stroke-width="0.8" fill="none"/><rect x="57.2" y="505" width="7.8" height="2" fill="#4a4a4a"/><path d="M57.2 507V38.2H951.4V507" fill="none" stroke="#5c5c5c" stroke-width="1.4"/><text x="46" y="511.1" font-size="10.5" text-anchor="end" fill="#000" stroke="#000" stroke-width="0.35">0</text><text x="46" y="452.52" font-size="10.5" text-anchor="end" fill="#000" stroke="#000" stroke-width="0.35">40</text><text x="46" y="393.94" font-size="10.5" text-anchor="end" fill="#000" stroke="#000" stroke-width="0.35">80</text><text x="46" y="335.36" font-size="10.5" text-anchor="end" fill="#000" stroke="#000" stroke-width="0.35">120</text><text x="46" y="276.78" font-size="10.5" text-anchor="end" fill="#000" stroke="#000" stroke-width="0.35">160</text><text x="46" y="218.2" font-size="10.5" text-anchor="end" fill="#000" stroke="#000" stroke-width="0.35">200</text><text x="46" y="159.62" font-size="10.5" text-anchor="end" fill="#000" stroke="#000" stroke-width="0.35">240</text><text x="46" y="101.04" font-size="10.5" text-anchor="end" fill="#000" stroke="#000" stroke-width="0.35">280</text><text x="46" y="42.46" font-size="10.5" text-anchor="end" fill="#000" stroke="#000" stroke-width="0.35">320</text><g font-size="7.4" fill="#000" stroke="#000" stroke-width="0.32"><text transform="translate(59.44 513) rotate(-90)" x="0" y="2.6" text-anchor="end">5-Οκτ</text><text transform="translate(69.38 513) rotate(-90)" x="0" y="2.6" text-anchor="end">16-Οκτ</text><text transform="translate(79.31 513) rotate(-90)" x="0" y="2.6" text-anchor="end">26-Οκτ</text><text transform="translate(89.25 513) rotate(-90)" x="0" y="2.6" text-anchor="end">4-Νοε</text><text transform="translate(99.18 513) rotate(-90)" x="0" y="2.6" text-anchor="end">13-Νοε</text><text transform="translate(109.12 513) rotate(-90)" x="0" y="2.6" text-anchor="end">23-Νοε</text><text transform="translate(119.06 513) rotate(-90)" x="0" y="2.6" text-anchor="end">02-Δεκ</text><text transform="translate(128.99 513) rotate(-90)" x="0" y="2.6" text-anchor="end">11-Δεκ</text><text transform="translate(138.93 513) rotate(-90)" x="0" y="2.6" text-anchor="end">21-Δεκ</text><text transform="translate(148.86 513) rotate(-90)" x="0" y="2.6" text-anchor="end">30-Δεκ</text><text transform="translate(158.8 513) rotate(-90)" x="0" y="2.6" text-anchor="end">8-Ιαν</text><text transform="translate(168.73 513) rotate(-90)" x="0" y="2.6" text-anchor="end">18-Ιαν</text><text transform="translate(178.67 513) rotate(-90)" x="0" y="2.6" text-anchor="end">27-Ιαν</text><text transform="translate(188.6 513) rotate(-90)" x="0" y="2.6" text-anchor="end">05-Φεβ</text><text transform="translate(198.54 513) rotate(-90)" x="0" y="2.6" text-anchor="end">10-Φεβ</text><text transform="translate(208.48 513) rotate(-90)" x="0" y="2.6" text-anchor="end">15-Φεβ</text><text transform="translate(218.41 513) rotate(-90)" x="0" y="2.6" text-anchor="end">19-Φεβ</text><text transform="translate(228.35 513) rotate(-90)" x="0" y="2.6" text-anchor="end">24-Φεβ</text><text transform="translate(238.28 513) rotate(-90)" x="0" y="2.6" text-anchor="end">01-Μαρ</text><text transform="translate(248.22 513) rotate(-90)" x="0" y="2.6" text-anchor="end">05-Μαρ</text><text transform="translate(258.15 513) rotate(-90)" x="0" y="2.6" text-anchor="end">10-Μαρ</text><text transform="translate(268.09 513) rotate(-90)" x="0" y="2.6" text-anchor="end">15-Μαρ</text><text transform="translate(278.02 513) rotate(-90)" x="0" y="2.6" text-anchor="end">19-Μαρ</text><text transform="translate(287.96 513) rotate(-90)" x="0" y="2.6" text-anchor="end">24-Μαρ</text><text transform="translate(297.9 513) rotate(-90)" x="0" y="2.6" text-anchor="end">29-Μαρ</text><text transform="translate(307.83 513) rotate(-90)" x="0" y="2.6" text-anchor="end">02-Απρ</text><text transform="translate(317.77 513) rotate(-90)" x="0" y="2.6" text-anchor="end">07-Απρ</text><text transform="translate(327.7 513) rotate(-90)" x="0" y="2.6" text-anchor="end">12-Απρ</text><text transform="translate(337.64 513) rotate(-90)" x="0" y="2.6" text-anchor="end">16-Απρ</text><text transform="translate(347.57 513) rotate(-90)" x="0" y="2.6" text-anchor="end">21-Απρ</text><text transform="translate(357.51 513) rotate(-90)" x="0" y="2.6" text-anchor="end">26-Απρ</text><text transform="translate(367.44 513) rotate(-90)" x="0" y="2.6" text-anchor="end">30-Απρ</text><text transform="translate(377.38 513) rotate(-90)" x="0" y="2.6" text-anchor="end">05-Μαϊ</text><text transform="translate(387.32 513) rotate(-90)" x="0" y="2.6" text-anchor="end">09-Μαϊ</text><text transform="translate(397.25 513) rotate(-90)" x="0" y="2.6" text-anchor="end">13-Μαϊ</text><text transform="translate(407.19 513) rotate(-90)" x="0" y="2.6" text-anchor="end">18-Μαϊ</text><text transform="translate(417.12 513) rotate(-90)" x="0" y="2.6" text-anchor="end">23-Μαϊ</text><text transform="translate(427.06 513) rotate(-90)" x="0" y="2.6" text-anchor="end">27-Μαϊ</text><text transform="translate(436.99 513) rotate(-90)" x="0" y="2.6" text-anchor="end">01-Ιουν</text><text transform="translate(446.93 513) rotate(-90)" x="0" y="2.6" text-anchor="end">06-Ιουν</text><text transform="translate(456.86 513) rotate(-90)" x="0" y="2.6" text-anchor="end">10-Ιουν</text><text transform="translate(466.8 513) rotate(-90)" x="0" y="2.6" text-anchor="end">14-Ιουν</text><text transform="translate(476.74 513) rotate(-90)" x="0" y="2.6" text-anchor="end">18-Ιουν</text><text transform="translate(486.67 513) rotate(-90)" x="0" y="2.6" text-anchor="end">22-Ιουν</text><text transform="translate(496.61 513) rotate(-90)" x="0" y="2.6" text-anchor="end">26-Ιουν</text><text transform="translate(506.54 513) rotate(-90)" x="0" y="2.6" text-anchor="end">30-Ιουν</text><text transform="translate(516.48 513) rotate(-90)" x="0" y="2.6" text-anchor="end">04-Ιουλ</text><text transform="translate(526.41 513) rotate(-90)" x="0" y="2.6" text-anchor="end">08-Ιουλ</text><text transform="translate(536.35 513) rotate(-90)" x="0" y="2.6" text-anchor="end">12-Ιουλ</text><text transform="translate(546.28 513) rotate(-90)" x="0" y="2.6" text-anchor="end">16-Ιουλ</text><text transform="translate(556.22 513) rotate(-90)" x="0" y="2.6" text-anchor="end">20-Ιουλ</text><text transform="translate(566.16 513) rotate(-90)" x="0" y="2.6" text-anchor="end">24-Ιουλ</text><text transform="translate(576.09 513) rotate(-90)" x="0" y="2.6" text-anchor="end">28-Ιουλ</text><text transform="translate(586.03 513) rotate(-90)" x="0" y="2.6" text-anchor="end">01-Αυγ</text><text transform="translate(595.96 513) rotate(-90)" x="0" y="2.6" text-anchor="end">05-Αυγ</text><text transform="translate(605.9 513) rotate(-90)" x="0" y="2.6" text-anchor="end">09-Αυγ</text><text transform="translate(615.83 513) rotate(-90)" x="0" y="2.6" text-anchor="end">13-Αυγ</text><text transform="translate(625.77 513) rotate(-90)" x="0" y="2.6" text-anchor="end">17-Αυγ</text><text transform="translate(635.7 513) rotate(-90)" x="0" y="2.6" text-anchor="end">21-Αυγ</text><text transform="translate(645.64 513) rotate(-90)" x="0" y="2.6" text-anchor="end">25-Αυγ</text><text transform="translate(655.58 513) rotate(-90)" x="0" y="2.6" text-anchor="end">29-Αυγ</text><text transform="translate(665.51 513) rotate(-90)" x="0" y="2.6" text-anchor="end">02-Σεπ</text><text transform="translate(675.45 513) rotate(-90)" x="0" y="2.6" text-anchor="end">06-Σεπ</text><text transform="translate(685.38 513) rotate(-90)" x="0" y="2.6" text-anchor="end">10-Σεπ</text><text transform="translate(695.32 513) rotate(-90)" x="0" y="2.6" text-anchor="end">14-Σεπ</text><text transform="translate(705.25 513) rotate(-90)" x="0" y="2.6" text-anchor="end">18-Σεπ</text><text transform="translate(715.19 513) rotate(-90)" x="0" y="2.6" text-anchor="end">22-Σεπ</text><text transform="translate(725.12 513) rotate(-90)" x="0" y="2.6" text-anchor="end">26-Σεπ</text><text transform="translate(735.06 513) rotate(-90)" x="0" y="2.6" text-anchor="end">30-Σεπ</text><text transform="translate(745 513) rotate(-90)" x="0" y="2.6" text-anchor="end">04-Οκτ</text><text transform="translate(754.93 513) rotate(-90)" x="0" y="2.6" text-anchor="end">08-Οκτ</text><text transform="translate(764.87 513) rotate(-90)" x="0" y="2.6" text-anchor="end">12-Οκτ</text><text transform="translate(774.8 513) rotate(-90)" x="0" y="2.6" text-anchor="end">16-Οκτ</text><text transform="translate(784.74 513) rotate(-90)" x="0" y="2.6" text-anchor="end">20-Οκτ</text><text transform="translate(794.67 513) rotate(-90)" x="0" y="2.6" text-anchor="end">24-Οκτ</text><text transform="translate(804.61 513) rotate(-90)" x="0" y="2.6" text-anchor="end">28-Οκτ</text><text transform="translate(814.54 513) rotate(-90)" x="0" y="2.6" text-anchor="end">01-Νοε</text><text transform="translate(824.48 513) rotate(-90)" x="0" y="2.6" text-anchor="end">05-Νοε</text><text transform="translate(834.42 513) rotate(-90)" x="0" y="2.6" text-anchor="end">09-Νοε</text><text transform="translate(844.35 513) rotate(-90)" x="0" y="2.6" text-anchor="end">13-Νοε</text><text transform="translate(854.29 513) rotate(-90)" x="0" y="2.6" text-anchor="end">17-Νοε</text><text transform="translate(864.22 513) rotate(-90)" x="0" y="2.6" text-anchor="end">21-Νοε</text><text transform="translate(874.16 513) rotate(-90)" x="0" y="2.6" text-anchor="end">25-Νοε</text><text transform="translate(884.09 513) rotate(-90)" x="0" y="2.6" text-anchor="end">29-Νοε</text><text transform="translate(894.03 513) rotate(-90)" x="0" y="2.6" text-anchor="end">03-Δεκ</text><text transform="translate(903.96 513) rotate(-90)" x="0" y="2.6" text-anchor="end">07-Δεκ</text><text transform="translate(913.9 513) rotate(-90)" x="0" y="2.6" text-anchor="end">11-Δεκ</text><text transform="translate(923.84 513) rotate(-90)" x="0" y="2.6" text-anchor="end">15-Δεκ</text><text transform="translate(933.77 513) rotate(-90)" x="0" y="2.6" text-anchor="end">19-Δεκ</text><text transform="translate(943.71 513) rotate(-90)" x="0" y="2.6" text-anchor="end">23-Δεκ</text></g><text x="510.8" y="552" font-size="14.2" font-weight="bold" text-anchor="middle" textLength="82" lengthAdjust="spacingAndGlyphs">Ημερομηνία</text><text transform="translate(21.3 285) rotate(-90)" x="0" y="0" font-size="16.2" font-weight="bold" text-anchor="middle" textLength="270" lengthAdjust="spacingAndGlyphs">Σχετικός Ρυθμός Έκκρισης Ικού Φορτίου</text></svg></body></html>
